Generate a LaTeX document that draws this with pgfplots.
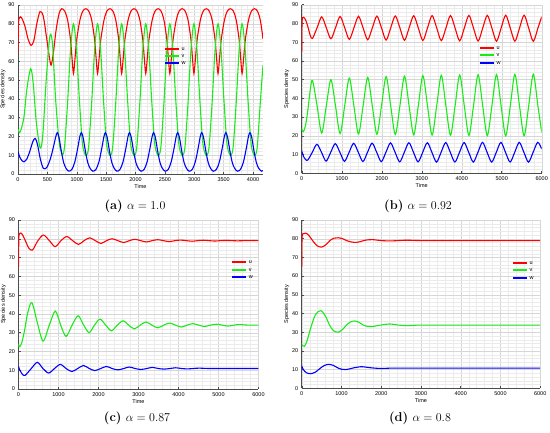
\documentclass[border=0pt]{standalone}
\usepackage{fontspec}
\setsansfont{Liberation Sans}
\usepackage{pgfplots}
\pgfplotsset{compat=1.18}
\definecolor{cu}{rgb}{1,0,0}
\definecolor{cv}{rgb}{0.1,0.92,0.1}
\definecolor{cw}{rgb}{0,0,1}
\pgfplotsset{
  panel/.style={
    scale only axis,
    ymin=0, ymax=90, ytick={0,10,...,90},
    axis x line*=bottom, axis y line*=left,
    axis line style={black!70, line width=0.5pt},
    every axis plot/.append style={line width=1.1pt, no markers},
    grid=both,
    major grid style={black!16, line width=0.3pt},
    minor grid style={black!8, line width=0.25pt},
    minor x tick num=4, minor y tick num=4,
    tick align=inside, major tick length=2pt, minor tick length=0pt,
    tick style={black!70, line width=0.4pt},
    scaled x ticks=false,
    ticklabel style={font=\sffamily\fontsize{5.5}{6}\selectfont},
    /pgf/number format/assume math mode=true,
    /pgf/number format/1000 sep={},
    xlabel={Time}, ylabel={Species density},
    label style={font=\sffamily\fontsize{5.5}{6}\selectfont},
    xlabel style={yshift=4pt}, ylabel style={yshift=-4pt},
  },
}
\newcommand{\legrow}[4]{%
  \draw[draw=#3, line width=2pt] (axis description cs:#1,#2) -- ++(14pt,0pt);
  \node[anchor=west, inner sep=0pt, font=\sffamily\fontsize{5.5}{6}\selectfont] at ([xshift=16.5pt]axis description cs:#1,#2) {#4};}
\begin{document}
\begin{tikzpicture}
\useasboundingbox (0pt,0pt) rectangle (550pt,433pt);
% ---------------- (a)
\begin{axis}[panel, at={(18pt,259pt)}, anchor=south west, width=245pt, height=169pt,
  xmin=0, xmax=4170, xtick={0,500,...,4000}]
\addplot[cu, smooth] coordinates {(0,65)(8,80)(25,83.2)(60,83.3)(120,78.5)(170,72)(222,68.5)(270,71)(320,80)(375,86.5)(430,84)(480,74)(530,63)(563,58)(600,64)(650,77)(700,85.5)
(744,88)(794,86.8)(844,82)(894,71.5)(919,62)(944,53.5)(969,61)(999,71.5)(1054,82)(1104,86.8)
(1154,88)(1204,86.8)(1254,82)(1304,71.5)(1329,62)(1354,53.5)(1379,61)(1409,71.5)(1464,82)(1514,86.8)
(1564,88)(1614,86.8)(1664,82)(1714,71.5)(1739,62)(1764,53.5)(1789,61)(1819,71.5)(1874,82)(1924,86.8)
(1974,88)(2024,86.8)(2074,82)(2124,71.5)(2149,62)(2174,53.5)(2199,61)(2229,71.5)(2284,82)(2334,86.8)
(2384,88)(2434,86.8)(2484,82)(2534,71.5)(2559,62)(2584,53.5)(2609,61)(2639,71.5)(2694,82)(2744,86.8)
(2794,88)(2844,86.8)(2894,82)(2944,71.5)(2969,62)(2994,53.5)(3019,61)(3049,71.5)(3104,82)(3154,86.8)
(3204,88)(3254,86.8)(3304,82)(3354,71.5)(3379,62)(3404,53.5)(3429,61)(3459,71.5)(3514,82)(3564,86.8)
(3614,88)(3664,86.8)(3714,82)(3764,71.5)(3789,62)(3814,53.5)(3839,61)(3869,71.5)(3924,82)(3974,86.8)
(4024,88)(4074,86.8)(4124,82)(4170,72)};
\addplot[cv, smooth] coordinates {(0,24)(15,22.5)(40,22.5)(100,30)(150,45)(216,56)(260,48)(310,28)(375,14)(420,20)(480,50)(530,70)(557,74.5)(590,68)(640,40)(700,17)(740,11.5)
(759,10)(794,15)(844,38)(894,66)(944,80)(994,67)(1044,40)(1094,17)(1134,11)
(1169,10)(1204,15)(1254,38)(1304,66)(1354,80)(1404,67)(1454,40)(1504,17)(1544,11)
(1579,10)(1614,15)(1664,38)(1714,66)(1764,80)(1814,67)(1864,40)(1914,17)(1954,11)
(1989,10)(2024,15)(2074,38)(2124,66)(2174,80)(2224,67)(2274,40)(2324,17)(2364,11)
(2399,10)(2434,15)(2484,38)(2534,66)(2584,80)(2634,67)(2684,40)(2734,17)(2774,11)
(2809,10)(2844,15)(2894,38)(2944,66)(2994,80)(3044,67)(3094,40)(3144,17)(3184,11)
(3219,10)(3254,15)(3304,38)(3354,66)(3404,80)(3454,67)(3504,40)(3554,17)(3594,11)
(3629,10)(3664,15)(3714,38)(3764,66)(3814,80)(3864,67)(3914,40)(3964,17)(4004,11)
(4039,10)(4074,15)(4124,38)(4170,58)};
\addplot[cw, smooth] coordinates {(0,12)(30,9)(70,7)(102,6.5)(150,8)(200,12)(250,17)(290,19)(330,16)(380,8)(432,3)(490,3.5)(550,8)(600,14)(640,19.5)
(668,22)(698,19.5)(738,12)(778,6)(818,3)(864,1.5)(918,2.5)(968,6.5)(1018,14)(1053,20)
(1078,22)(1108,19.5)(1148,12)(1188,6)(1228,3)(1274,1.5)(1328,2.5)(1378,6.5)(1428,14)(1463,20)
(1488,22)(1518,19.5)(1558,12)(1598,6)(1638,3)(1684,1.5)(1738,2.5)(1788,6.5)(1838,14)(1873,20)
(1898,22)(1928,19.5)(1968,12)(2008,6)(2048,3)(2094,1.5)(2148,2.5)(2198,6.5)(2248,14)(2283,20)
(2308,22)(2338,19.5)(2378,12)(2418,6)(2458,3)(2504,1.5)(2558,2.5)(2608,6.5)(2658,14)(2693,20)
(2718,22)(2748,19.5)(2788,12)(2828,6)(2868,3)(2914,1.5)(2968,2.5)(3018,6.5)(3068,14)(3103,20)
(3128,22)(3158,19.5)(3198,12)(3238,6)(3278,3)(3324,1.5)(3378,2.5)(3428,6.5)(3478,14)(3513,20)
(3538,22)(3568,19.5)(3608,12)(3648,6)(3688,3)(3734,1.5)(3788,2.5)(3838,6.5)(3888,14)(3923,20)
(3948,22)(3978,19.5)(4018,12)(4058,6)(4098,3)(4144,1.5)(4170,1.8)};
\legrow{0.600}{0.7414}{cu}{u}
\legrow{0.600}{0.6982}{cv}{v}
\legrow{0.600}{0.6550}{cw}{w}
\end{axis}
% ---------------- (b)
\begin{axis}[panel, at={(301.7pt,259.7pt)}, anchor=south west, width=240pt, height=168.6pt,
  xmin=0, xmax=6000, xtick={0,1000,...,6000}]
\addplot[cu, smooth] coordinates {(0,65)(8,80)(25,83.2)(50,83.3)(100,81.8)(160,77.8)(215,73.5)(270,72)
(385,77.7)(500,83.5)(615,77.7)(730,71.8)(845,77.7)(960,83.7)(1075,77.7)(1190,71.5)(1305,77.6)(1420,83.8)(1535,77.6)(1650,71.3)(1765,77.6)(1880,83.9)(1995,77.6)(2110,71.1)(2225,77.6)(2340,84)(2455,77.6)(2570,71)(2685,77.6)(2800,84.1)(2915,77.6)(3030,70.9)(3145,77.6)(3260,84.2)(3375,77.6)(3490,70.8)(3605,77.5)(3720,84.2)(3835,77.5)(3950,70.7)(4065,77.5)(4180,84.3)(4295,77.5)(4410,70.6)(4525,77.5)(4640,84.3)(4755,77.5)(4870,70.5)(4985,77.5)(5100,84.4)(5215,77.5)(5330,70.5)(5445,77.5)(5560,84.4)(5675,77.5)(5790,70.5)(5905,77.5)(6000,83.6)};
\addplot[cv, smooth] coordinates {(0,24)(15,22.7)(40,22.2)(90,25)(150,33)(210,44)(270,49.5)(385,36)(500,21.5)(615,36)(730,50)(845,36)(960,21.2)(1075,36)(1190,50.8)(1305,36)(1420,21)(1535,36)(1650,51.2)(1765,36)(1880,20.8)(1995,36)(2110,51.6)(2225,36)(2340,20.7)(2455,36)(2570,51.9)(2685,36)(2800,20.5)(2915,36)(3030,52.1)(3145,36)(3260,20.4)(3375,36)(3490,52.3)(3605,36)(3720,20.3)(3835,36)(3950,52.5)(4065,36)(4180,20.2)(4295,36)(4410,52.6)(4525,36)(4640,20.1)(4755,36)(4870,52.7)(4985,36)(5100,20)(5215,36)(5330,52.8)(5445,36)(5560,20)(5675,36)(5790,52.9)(5905,36)(6000,21.8)};
\addplot[cw, smooth] coordinates {(0,12)(40,9.3)(90,7.5)(150,7)(265,11.2)(380,15.5)(495,11.2)(610,6.5)(725,11.2)(840,15.8)(955,11.2)(1070,6.4)(1185,11.2)(1300,16)(1415,11.2)(1530,6.3)(1645,11.2)(1760,16.1)(1875,11.2)(1990,6.2)(2105,11.2)(2220,16.2)(2335,11.2)(2450,6.1)(2565,11.2)(2680,16.3)(2795,11.2)(2910,6.1)(3025,11.2)(3140,16.3)(3255,11.2)(3370,6)(3485,11.2)(3600,16.4)(3715,11.2)(3830,6)(3945,11.2)(4060,16.4)(4175,11.2)(4290,6)(4405,11.2)(4520,16.5)(4635,11.2)(4750,6)(4865,11.2)(4980,16.5)(5095,11.2)(5210,6)(5325,11.2)(5440,16.5)(5555,11.2)(5670,6)(5785,11.2)(5900,16.5)(6000,13)};
\legrow{0.743}{0.7432}{cu}{u}
\legrow{0.743}{0.6987}{cv}{v}
\legrow{0.743}{0.6554}{cw}{w}
\end{axis}
% ---------------- (c)
\begin{axis}[panel, at={(18.5pt,44pt)}, anchor=south west, width=240pt, height=169pt,
  xmin=0, xmax=6000, xtick={0,1000,...,6000}]
\addplot[cu, smooth] coordinates {(0,65)(8,80)(25,82.8)(60,83.1)(110,81.8)(180,78.5)(260,75)(350,74)(485,79)(625,82)(771,79)(917,75.8)(1062,79)(1208,81.2)(1354,79)(1500,77)(1640,79)(1780,80.5)(1920,79)(2060,77.5)(2200,79)(2340,80)(2485,79)(2630,78)(2770,79)(2910,79.7)(3055,79)(3200,78.3)(3340,79)(3480,79.5)(3625,79)(3770,78.5)(3910,79)(4050,79.3)(4195,79)(4340,78.7)(4480,79)(4620,79.2)(4765,79)(4910,78.8)(5050,79)(5190,79.1)(5335,79)(5480,78.9)(5620,79)(5760,79.05)(6000,79)};
\addplot[cv, smooth] coordinates {(0,24)(12,22.6)(30,22.5)(80,24.5)(150,31)(230,40.5)(335,46)(475,35)(615,25.5)(770,34)(920,41.5)(1055,34)(1190,28)(1340,34)(1490,39)(1630,34)(1765,30)(1900,34)(2040,37.2)(2180,34)(2325,31)(2470,34)(2615,36.3)(2755,34)(2895,32)(3040,34)(3190,35.7)(3335,34)(3480,32.6)(3630,34)(3780,35.1)(3925,34)(4070,33)(4215,34)(4360,34.8)(4505,34)(4650,33.3)(4800,34)(4950,34.5)(5095,34)(5240,33.5)(5380,34)(5520,34.3)(5760,34)(6000,34)};
\addplot[cw, smooth] coordinates {(0,12)(40,9.8)(100,7.8)(167,7.3)(320,10.9)(470,14.2)(612,10.9)(755,8.5)(900,10.9)(1045,13.1)(1190,10.9)(1335,9.3)(1480,10.9)(1625,12.5)(1770,10.9)(1910,9.8)(2055,10.9)(2200,12)(2340,10.9)(2485,10.2)(2630,10.9)(2770,11.7)(2915,10.9)(3060,10.4)(3205,10.9)(3350,11.5)(3495,10.9)(3640,10.6)(3785,10.9)(3930,11.3)(4075,10.9)(4220,10.7)(4365,10.9)(4510,11.1)(4800,10.9)(5400,10.9)(6000,10.9)};
\legrow{0.890}{0.7497}{cu}{u}
\legrow{0.890}{0.7059}{cv}{v}
\legrow{0.890}{0.6627}{cw}{w}
\end{axis}
% ---------------- (d)
\begin{axis}[panel, at={(301.7pt,44.7pt)}, anchor=south west, width=238.5pt, height=168.3pt,
  xmin=0, xmax=6000, xtick={0,1000,...,6000}]
\addplot[cu, smooth] coordinates {(0,65)(8,80)(30,82.6)(100,83)(180,81.8)(280,78.8)(390,76.2)(500,75.5)(610,76.8)(710,79)(815,80.3)(920,80.5)(1030,80)(1130,79)(1235,78.3)(1340,78)(1450,78.3)(1560,79)(1670,79.4)(1780,79.5)(2000,79)(2220,78.8)(2435,79)(2650,79.2)(3000,79)(4000,79)(5000,79)(6000,79)};
\addplot[cv, smooth] coordinates {(0,24)(15,22.8)(67,22.5)(130,25)(230,32.5)(350,39.5)(483,41.5)(600,38.5)(700,33.8)(800,30.8)(917,30)(1030,31.5)(1125,33.8)(1230,35.5)(1333,36)(1440,35.3)(1550,33.8)(1660,33.1)(1767,33)(1990,33.8)(2208,34.4)(2430,33.8)(2660,33.5)(3000,33.8)(4000,33.8)(5000,33.8)(6000,33.8)};
\addplot[cw, smooth] coordinates {(0,12)(40,10)(120,8.3)(225,7.8)(340,8.6)(460,10.6)(570,12.2)(683,12.8)(800,12.2)(900,11)(1000,10.2)(1100,10)(1210,10.4)(1320,11)(1430,11.4)(1542,11.5)(1770,10.9)(2000,10.6)(2300,10.8)(3000,10.8)(4000,10.8)(5000,10.8)(6000,10.8)};
\legrow{0.886}{0.7463}{cu}{u}
\legrow{0.886}{0.7029}{cv}{v}
\legrow{0.886}{0.6571}{cw}{w}
\end{axis}
% captions
\node[font=\fontsize{12.8}{15}\selectfont] at (135pt,226.5pt) {\textbf{(a)} $\alpha = 1.0$};
\node[font=\fontsize{12.8}{15}\selectfont] at (418pt,226.5pt) {\textbf{(b)} $\alpha = 0.92$};
\node[font=\fontsize{12.8}{15}\selectfont] at (137pt,15pt) {\textbf{(c)} $\alpha = 0.87$};
\node[font=\fontsize{12.8}{15}\selectfont] at (420pt,15pt) {\textbf{(d)} $\alpha = 0.8$};
\end{tikzpicture}
\end{document}
